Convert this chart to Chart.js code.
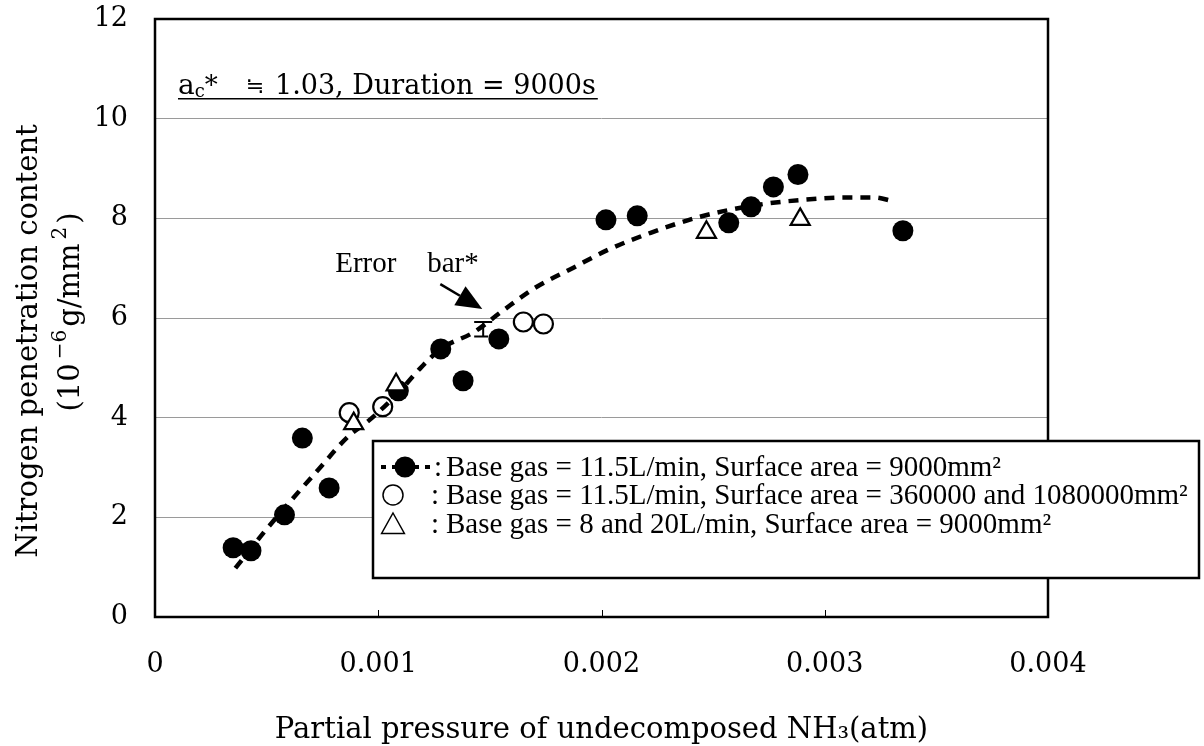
<!DOCTYPE html>
<html>
<head>
<meta charset="utf-8">
<script src="https://cdn.jsdelivr.net/npm/chart.js@4.4.0/dist/chart.umd.min.js"></script>
<style>
html,body{margin:0;padding:0;background:#fff;}
#wrap{width:1204px;height:746px;position:relative;}
</style>
</head>
<body>
<div id="wrap"><canvas id="c" width="1204" height="746"></canvas></div>
<script>
// ---- data ----
const xTickValues = [0, 0.001, 0.002, 0.003, 0.004];
const xTickLabels = ['0', '0.001', '0.002', '0.003', '0.004'];
const yTickValues = [0, 2, 4, 6, 8, 10, 12];
const yTickLabels = ['0', '2', '4', '6', '8', '10', '12'];

// ● Base gas = 11.5 L/min, surface area = 9000 mm²
const smallAreaX = [0.00035, 0.00043, 0.00058, 0.00066, 0.00078, 0.00109, 0.00128, 0.00138, 0.00154, 0.00202, 0.00216, 0.00257, 0.00267, 0.00277, 0.00288, 0.00335];
const smallAreaY = [1.39, 1.33, 2.05, 3.59, 2.59, 4.54, 5.38, 4.74, 5.58, 7.97, 8.05, 7.91, 8.23, 8.63, 8.88, 7.75];
// ○ Base gas = 11.5 L/min, surface area = 360000 and 1080000 mm²
const largeAreaX = [0.00087, 0.00102, 0.00165, 0.00174];
const largeAreaY = [4.10, 4.22, 5.92, 5.88];
// △ Base gas = 8 and 20 L/min, surface area = 9000 mm²
const gasFlowX = [0.00089, 0.00108, 0.00247, 0.00289];
const gasFlowY = [3.88, 4.66, 7.72, 7.98];
// dotted trend curve
const trendX = [0.00036, 0.00049, 0.00060, 0.00074, 0.00086, 0.00096, 0.00109, 0.00119, 0.00128, 0.00143, 0.00155, 0.00170, 0.00187, 0.00203, 0.00222, 0.00244, 0.00270, 0.00290, 0.00310, 0.00322, 0.00331];
const trendY = [0.98, 1.71, 2.29, 3.00, 3.60, 3.95, 4.50, 5.00, 5.38, 5.72, 6.12, 6.60, 7.00, 7.37, 7.71, 8.03, 8.27, 8.37, 8.42, 8.42, 8.34];
// error bar sample
const errX = [0.00147];
const errLow = [5.63];
const errHigh = [5.92];

const legendLabels = [
  'Base gas = 11.5L/min, Surface area = 9000mm²',
  'Base gas = 11.5L/min, Surface area = 360000 and 1080000mm²',
  'Base gas = 8 and 20L/min, Surface area = 9000mm²'
];
const xTitle = 'Partial pressure of undecomposed NH₃(atm)';
const yTitleLine1 = 'Nitrogen penetration content';
const yTitleLine2 = ['(10', '−6', 'g/mm', '2', ')'];
const noteMain = '1.03, Duration = 9000s';
const errorNote = ['Error', 'bar*'];

const SERIF = '"DejaVu Serif", serif';
const TIMES = '"Liberation Serif", "DejaVu Serif", serif';

function pts(xs, ys) { return xs.map((x, i) => ({ x: x, y: ys[i] })); }

function drawTriangle(ctx, cx, cy, r) {
  ctx.beginPath();
  ctx.moveTo(cx, cy - r);
  ctx.lineTo(cx + r * 0.95, cy + r * 0.7);
  ctx.lineTo(cx - r * 0.95, cy + r * 0.7);
  ctx.closePath();
}

const extras = {
  id: 'extras',
  afterDatasetsDraw(chart) {
    const ctx = chart.ctx;
    const a = chart.chartArea;
    const xs = chart.scales.x, ys = chart.scales.y;
    ctx.save();
    // plot frame
    ctx.strokeStyle = '#000';
    ctx.lineWidth = 2.5;
    ctx.strokeRect(a.left, a.top, a.right - a.left, a.bottom - a.top);
    // inner x tick marks
    ctx.lineWidth = 1;
    xTickValues.slice(1, -1).forEach(v => {
      const px = Math.round(xs.getPixelForValue(v)) + 0.5;
      ctx.beginPath(); ctx.moveTo(px, a.bottom); ctx.lineTo(px, a.bottom - 7); ctx.stroke();
    });
    // error bar
    ctx.lineWidth = 2;
    errX.forEach((ex, i) => {
      const px = xs.getPixelForValue(ex);
      const t = ys.getPixelForValue(errHigh[i]);
      const b = ys.getPixelForValue(errLow[i]);
      ctx.beginPath();
      ctx.moveTo(px, t); ctx.lineTo(px, b);
      ctx.moveTo(px - 9, t); ctx.lineTo(px + 9, t);
      ctx.moveTo(px - 9, b); ctx.lineTo(px + 5, b);
      ctx.stroke();
    });
    // "Error bar*" note with arrow
    ctx.fillStyle = '#000';
    ctx.font = '29px ' + TIMES;
    ctx.textBaseline = 'alphabetic';
    const ex0 = xs.getPixelForValue(0.000807), ey0 = ys.getPixelForValue(6.92);
    ctx.fillText(errorNote[0], ex0, ey0);
    ctx.fillText(errorNote[1], ex0 + 92, ey0);
    const tx = xs.getPixelForValue(0.001278), ty = ys.getPixelForValue(6.68);
    const hx = xs.getPixelForValue(0.001466), hy = ys.getPixelForValue(6.18);
    const ang = Math.atan2(hy - ty, hx - tx);
    const hl = 26, hw = 11;
    const bx = hx - hl * Math.cos(ang), by = hy - hl * Math.sin(ang);
    ctx.lineWidth = 2.5;
    ctx.beginPath(); ctx.moveTo(tx, ty); ctx.lineTo(bx, by); ctx.stroke();
    ctx.beginPath();
    ctx.moveTo(hx, hy);
    ctx.lineTo(bx + hw * Math.sin(ang), by - hw * Math.cos(ang));
    ctx.lineTo(bx - hw * Math.sin(ang), by + hw * Math.cos(ang));
    ctx.closePath(); ctx.fill();
    // condition note: a_c* ≒ 1.03, Duration = 9000s (underlined)
    const nx = xs.getPixelForValue(0.000103), ny = ys.getPixelForValue(10.5);
    ctx.font = '28px ' + SERIF;
    ctx.fillText('a', nx, ny);
    let cx = nx + ctx.measureText('a').width;
    ctx.font = '18px ' + SERIF;
    ctx.fillText('c', cx, ny + 3);
    cx += ctx.measureText('c').width;
    ctx.font = '26px ' + SERIF;
    ctx.fillText('*', cx, ny);
    ctx.font = '22px "DejaVu Sans", sans-serif';
    ctx.fillText('≒', nx + 68, ny - 1);
    ctx.font = '27px ' + SERIF;
    const mx = nx + 97;
    ctx.fillText(noteMain, mx, ny);
    const endX = mx + ctx.measureText(noteMain).width;
    ctx.lineWidth = 1.5;
    ctx.beginPath(); ctx.moveTo(nx, ny + 5); ctx.lineTo(endX + 2, ny + 5); ctx.stroke();
    // y-axis title (two lines)
    ctx.save();
    ctx.translate(37, 341);
    ctx.rotate(-Math.PI / 2);
    ctx.font = '29px ' + SERIF;
    ctx.textAlign = 'center';
    ctx.fillText(yTitleLine1, 0, 0);
    ctx.restore();
    ctx.save();
    const supFont = '20px ' + SERIF;
    const sizes = yTitleLine2.map((s, i) => {
      ctx.font = (i === 1 || i === 3) ? supFont : '29px ' + SERIF;
      return ctx.measureText(s).width;
    });
    const total = sizes.reduce((p, q) => p + q, 0) + 14;
    ctx.translate(79, 312);
    ctx.rotate(-Math.PI / 2);
    let px2 = -total / 2;
    yTitleLine2.forEach((s, i) => {
      const sup = (i === 1 || i === 3);
      ctx.font = sup ? supFont : '29px ' + SERIF;
      if (sup) px2 += 4;
      ctx.fillText(s, px2, sup ? -13 : 0);
      px2 += sizes[i];
      if (sup) px2 += 3;
    });
    ctx.restore();
    ctx.restore();
  },
  afterDraw(chart) {
    const ctx = chart.ctx;
    ctx.save();
    // legend box
    const L = 373, T = 441, R = 1199, B = 578;
    ctx.fillStyle = '#fff';
    ctx.fillRect(L, T, R - L, B - T);
    ctx.strokeStyle = '#000';
    ctx.lineWidth = 2.5;
    ctx.strokeRect(L, T, R - L, B - T);
    const rows = [467, 495, 524];
    ctx.fillStyle = '#000';
    ctx.font = '29px ' + TIMES;
    ctx.textBaseline = 'middle';
    // row 1 symbol: dotted line + filled circle
    ctx.lineWidth = 4;
    ctx.setLineDash([5, 6]);
    ctx.beginPath(); ctx.moveTo(381, rows[0]); ctx.lineTo(432, rows[0]); ctx.stroke();
    ctx.setLineDash([]);
    ctx.beginPath(); ctx.arc(405, rows[0], 10.5, 0, Math.PI * 2); ctx.fill();
    // row 2 symbol: open circle
    ctx.lineWidth = 1.5;
    ctx.beginPath(); ctx.arc(393, rows[1], 10, 0, Math.PI * 2); ctx.stroke();
    // row 3 symbol: open triangle
    drawTriangle(ctx, 393, rows[2] + 1, 12); ctx.stroke();
    const colonX = [434, 431, 431];
    rows.forEach((ry, i) => {
      ctx.fillText(':', colonX[i], ry + 1);
      ctx.fillText(legendLabels[i], 446, ry + 1);
    });
    ctx.restore();
  }
};

new Chart(document.getElementById('c'), {
  type: 'scatter',
  data: {
    datasets: [
      { label: legendLabels[2], data: pts(gasFlowX, gasFlowY), pointStyle: 'triangle', pointRadius: 11,
        backgroundColor: '#fff', borderColor: '#000', borderWidth: 2.2, order: 0 },
      { label: legendLabels[0], data: pts(smallAreaX, smallAreaY), pointStyle: 'circle', pointRadius: 10.5,
        backgroundColor: '#000', borderColor: '#000', borderWidth: 0, order: 1 },
      { label: 'trend', data: pts(trendX, trendY), showLine: true, pointRadius: 0, borderColor: '#000',
        borderWidth: 4.5, borderDash: [10, 8], cubicInterpolationMode: 'monotone', fill: false, order: 2 },
      { label: legendLabels[1], data: pts(largeAreaX, largeAreaY), pointStyle: 'circle', pointRadius: 9.5,
        backgroundColor: '#fff', borderColor: '#000', borderWidth: 2.2, order: 3 }
    ]
  },
  options: {
    responsive: false,
    animation: false,
    devicePixelRatio: 1,
    layout: { padding: { top: 19, right: 156, left: 0, bottom: 0 } },
    plugins: { legend: { display: false }, tooltip: { enabled: false } },
    scales: {
      x: {
        type: 'linear', min: 0, max: 0.004,
        afterBuildTicks: s => { s.ticks = xTickValues.map(v => ({ value: v })); },
        afterFit: s => { s.height = 129; s.paddingLeft = 0; s.paddingRight = 0; },
        grid: { display: false, drawTicks: false },
        border: { display: false },
        ticks: { font: { family: SERIF, size: 27 }, color: '#000', padding: 32, maxRotation: 0,
                 callback: (v, i) => xTickLabels[i] },
        title: { display: true, text: xTitle, color: '#000', font: { family: SERIF, size: 29, lineHeight: 1.1 },
                 padding: { top: 0, bottom: 0 } }
      },
      y: {
        type: 'linear', min: 0, max: 12,
        afterBuildTicks: s => { s.ticks = yTickValues.map(v => ({ value: v })); },
        afterFit: s => { s.width = 155; s.paddingTop = 0; s.paddingBottom = 0; },
        grid: { color: '#9a9a9a', lineWidth: 1, drawTicks: false },
        border: { display: false },
        ticks: { font: { family: SERIF, size: 27 }, color: '#000', padding: 27,
                 callback: (v, i) => yTickLabels[i] }
      }
    }
  },
  plugins: [extras]
});
</script>
</body>
</html>
